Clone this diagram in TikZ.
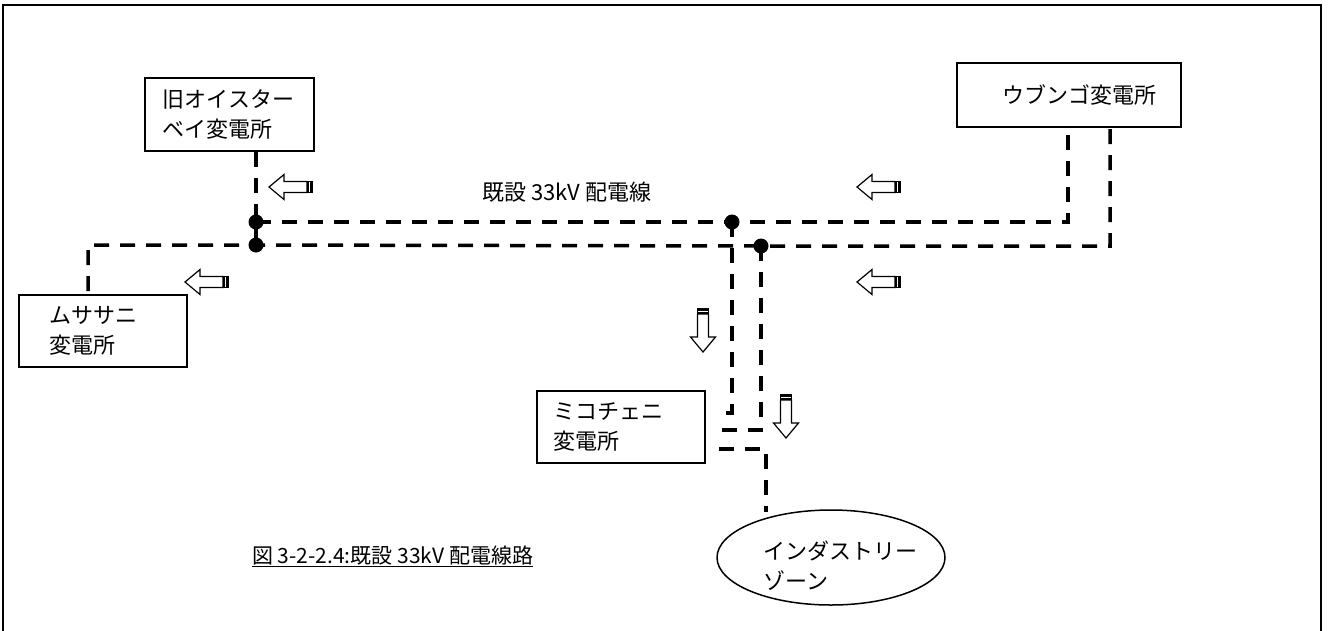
\documentclass[tikz,border=0pt]{standalone}
\usepackage{fontspec}
\setmainfont{Noto Sans CJK JP}
\usetikzlibrary{shapes.geometric}
\tikzset{
  every picture/.style={x=1pt,y=-1pt},
  stn/.style={draw,line width=1.8pt,rectangle,align=left,inner ysep=0pt,font=\fontsize{22}{30}\selectfont},
  feeder/.style={line width=3.5pt,dash pattern=on 15pt off 11pt},
  junction/.style={circle,fill,inner sep=0pt,minimum size=15pt},
  lbl/.style={inner sep=0pt,font=\fontsize{22}{30}\selectfont,align=left},
  blockarrow/.pic={
    \draw[line width=1.2pt,fill=white] (0,0) -- (15,-12.5) -- (15,-5.5) -- (38,-5.5) -- (38,5.5) -- (15,5.5) -- (15,12.5) -- cycle;
    \fill (38,-6) rectangle (44,6);
    \draw[white,line width=0.7pt] (40.5,-5) -- (40.5,5);
  }
}
\begin{document}
\begin{tikzpicture}
\useasboundingbox (0,0) rectangle (1329,630);
% frame
\draw[line width=2pt] (3,632) -- (3,5) -- (1321,5) -- (1321,632);

% stations
\node[stn,minimum width=169pt,minimum height=73pt,text width=133pt,inner xsep=18pt,anchor=north west] (oyster) at (144,77) {旧オイスター\\ベイ変電所};
\node[stn,minimum width=168pt,minimum height=72pt,text width=106pt,inner xsep=31pt,anchor=north west] (musasani) at (18,294) {ムササニ\\変電所};
\node[stn,minimum width=168pt,minimum height=72pt,text width=134pt,inner xsep=17pt,anchor=north west] (mikochieni) at (536,390) {ミコチェニ\\変電所};
\node[stn,minimum width=224pt,minimum height=64pt,text width=178pt,inner xsep=23pt,anchor=north west] (ubungo) at (956,62) {\hspace*{23pt}\raisebox{-5pt}{ウブンゴ変電所}};
\node[draw,line width=1.5pt,ellipse,minimum width=228pt,minimum height=95pt] (zone) at (831,557.5) {};
\node[lbl,anchor=west] (zonetext) at (763,566) {インダストリー\\ゾーン};

% labels
\node[lbl,anchor=west] (feederlbl) at (482,192) {既設 33kV 配電線};
\node[inner sep=0pt,anchor=base west,font=\fontsize{21}{30}\selectfont] (caption) at (252,563) {\underline{図 3-2-2.4:既設 33kV 配電線路}};

% junctions
\coordinate (d1) at (256,222);
\coordinate (d2) at (256,245);
\coordinate (d3) at (732,222);
\coordinate (d4) at (761,246);
\coordinate (u1) at (1068,126);
\coordinate (u2) at (1110,126);
\coordinate (ms) at (88,291);
\coordinate (m1) at (717,413);
\coordinate (m2) at (715,430);
\coordinate (m3) at (719,449);
\coordinate (z1) at (766,512);

% feeders
\draw[feeder] (oyster.south -| d1) -- (d1);
\draw[line width=3.5pt] (d1) -- (d2);
\draw[feeder] (d1) -- (d3) -| (u1);
\draw[feeder] (ms) |- (d2) -- (d4) -| (u2);
\draw[feeder] (d3) |- (m1);
\draw[feeder] (d4) |- (m2);
\draw[feeder] (m3) -| (z1);

\node[junction] (j1) at (d1) {};
\node[junction] (j2) at (d2) {};
\node[junction] (j3) at (d3) {};
\node[junction] (j4) at (d4) {};

% flow arrows
\pic at (269,187) {blockarrow};
\pic at (185,282) {blockarrow};
\pic at (857,187) {blockarrow};
\pic at (857,282) {blockarrow};
\pic[rotate=90] at (703,352) {blockarrow};
\pic[rotate=90] at (786,438) {blockarrow};
\end{tikzpicture}
\end{document}
